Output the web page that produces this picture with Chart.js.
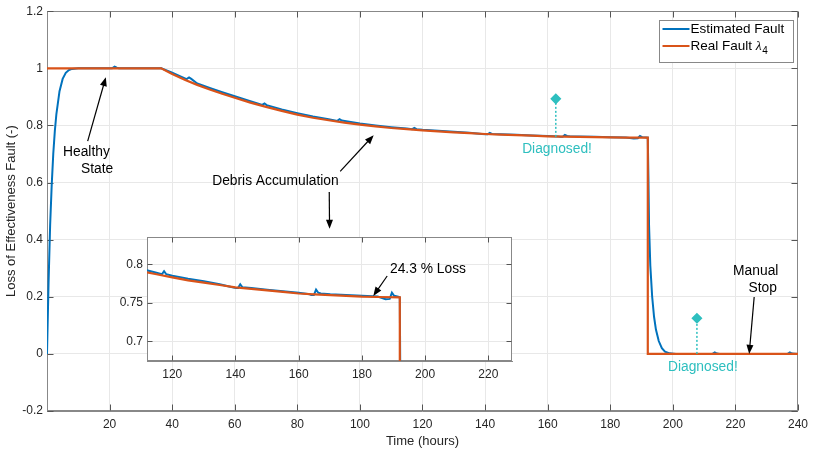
<!DOCTYPE html>
<html>
<head>
<meta charset="utf-8">
<script src="https://cdn.jsdelivr.net/npm/chart.js@4.4.1/dist/chart.umd.min.js"></script>
<style>
  html, body { margin: 0; padding: 0; background: #fff; }
  #wrap { position: relative; width: 814px; height: 453px; }
  #mainChart { position: absolute; left: 0; top: 0; }
  #insetChart { position: absolute; left: 100px; top: 226px; }
</style>
</head>
<body>
<div id="wrap">
  <canvas id="mainChart" width="814" height="453"></canvas>
  <canvas id="insetChart" width="416" height="160"></canvas>
</div>
<script>
// --- Data ---
const realTime = [0, 36.5, 40, 44, 48, 52, 56, 60, 65, 70, 75, 80, 85, 90, 95, 100, 105, 110, 115, 120,
  125, 130, 135, 140, 145, 150, 155, 160, 165, 170, 175, 180, 185, 192, 192, 240];
const realValue = [1, 1, 0.980, 0.960, 0.942, 0.926, 0.911, 0.897, 0.880, 0.865, 0.851, 0.838, 0.827, 0.818, 0.810, 0.803, 0.797, 0.791, 0.787, 0.783,
  0.779, 0.776, 0.773, 0.770, 0.768, 0.766, 0.764, 0.762, 0.761, 0.760, 0.759, 0.758, 0.7575, 0.757, 0, 0];

const estTime = [0, 0.5, 1, 1.5, 2, 2.5, 3, 4, 5, 6, 7, 8, 10,
  20.8, 21.6, 22.3, 23, 36.5, 40, 44.6, 45.4, 46.1, 48, 52, 56, 60, 65,
  68.8, 69.5, 70.2, 75, 80, 85, 90, 92.8, 93.5, 94.2, 100, 105, 110, 115,
  116.7, 117.4, 118.1, 120, 125, 130, 135, 139, 140.2, 140.8, 141.5, 142.2, 145, 150, 155, 160,
  163.5, 164, 164.8, 165.5, 166.2, 167, 170, 175, 180, 185, 187.5, 188.8, 189.5, 190.2, 191.5, 192,
  192.2, 192.4, 192.8, 193.4, 194, 194.6, 195.5, 196.5, 197.5, 199, 201,
  212.7, 213.4, 214.1, 215, 236.7, 237.4, 238.1, 240];
const estValue = [0, 0.25, 0.45, 0.59, 0.70, 0.78, 0.84, 0.92, 0.963, 0.984, 0.994, 0.998, 1.0,
  1.0, 1.006, 1.002, 1.0, 1.0, 0.985, 0.962, 0.968, 0.963, 0.947, 0.931, 0.916, 0.902, 0.885,
  0.872, 0.877, 0.871, 0.856, 0.843, 0.831, 0.822, 0.816, 0.822, 0.817, 0.807, 0.800, 0.794, 0.789,
  0.787, 0.791, 0.787, 0.785, 0.781, 0.778, 0.774, 0.770, 0.769, 0.769, 0.774, 0.770, 0.769, 0.767, 0.765, 0.763,
  0.761, 0.760, 0.760, 0.767, 0.763, 0.762, 0.761, 0.760, 0.759, 0.758, 0.7545, 0.755, 0.763, 0.759, 0.758, 0.757,
  0.62, 0.45, 0.31, 0.20, 0.13, 0.085, 0.045, 0.02, 0.008, 0.002, 0,
  0, 0.005, 0.001, 0, 0, 0.005, 0.001, 0];

const diagTime = [162.6, 207.7];
const diagTop = [0.893, 0.125];
const diagBase = [0.76, 0];

const xTicks = [20, 40, 60, 80, 100, 120, 140, 160, 180, 200, 220, 240];
const yTicks = [-0.2, 0, 0.2, 0.4, 0.6, 0.8, 1, 1.2];
const insetXTicks = [120, 140, 160, 180, 200, 220];
const insetYTicks = [0.7, 0.75, 0.8];

// --- Styles ---
const BLUE = '#0072BD';
const ORANGE = '#D95319';
const CYAN = '#2EBFBF';
const FONT = '"Liberation Sans", Arial, Helvetica, sans-serif';
Chart.defaults.font.family = FONT;
Chart.defaults.color = '#262626';

function toPoints(xs, ys) {
  return xs.map((x, i) => ({ x: x, y: ys[i] }));
}

function faultSets() {
  return [
    { label: 'Estimated Fault', data: toPoints(estTime, estValue), borderColor: BLUE,
      borderWidth: 2, pointRadius: 0, order: 2 },
    { label: 'Real Fault', data: toPoints(realTime, realValue), borderColor: ORANGE,
      borderWidth: 2.2, pointRadius: 0, order: 1 }
  ];
}

// stems for "Diagnosed!" markers
function stemSets() {
  return diagTime.map((t, i) => ({
    label: 'Diagnosed',
    data: [{ x: t, y: diagBase[i] }, { x: t, y: diagTop[i] }],
    borderColor: CYAN, borderWidth: 1.5, borderDash: [2, 2],
    pointRadius: [0, 4.5], pointStyle: 'rectRot',
    pointBackgroundColor: CYAN, pointBorderColor: CYAN, order: 0
  }));
}

function drawArrow(ctx, x1, y1, x2, y2) {
  const a = Math.atan2(y2 - y1, x2 - x1);
  const L = 9, W = 3.5;
  const c = Math.cos(a), s = Math.sin(a);
  ctx.beginPath();
  ctx.moveTo(x1, y1);
  ctx.lineTo(x2 - L * c * 0.7, y2 - L * s * 0.7);
  ctx.stroke();
  ctx.beginPath();
  ctx.moveTo(x2, y2);
  ctx.lineTo(x2 - L * c + W * s, y2 - L * s - W * c);
  ctx.lineTo(x2 - L * c - W * s, y2 - L * s + W * c);
  ctx.closePath();
  ctx.fill();
}

// box around the axes + inward tick marks (MATLAB look)
const framePlugin = {
  id: 'frame',
  beforeDatasetsDraw(chart, args, opts) {
    const { ctx, chartArea: a, scales: { x, y } } = chart;
    const len = opts.len || 6;
    ctx.save();
    ctx.strokeStyle = '#888';
    ctx.lineWidth = 1;
    const L = Math.round(a.left) + 0.5, R = Math.round(a.right) - 0.5;
    const T = Math.round(a.top) + 0.5, B = Math.round(a.bottom) - 0.5;
    ctx.strokeRect(L, T, R - L, B - T);
    ctx.strokeStyle = '#555';
    ctx.beginPath();
    x.ticks.forEach(tk => {
      const px = Math.round(x.getPixelForValue(tk.value)) + 0.5;
      ctx.moveTo(px, B); ctx.lineTo(px, B - len);
      ctx.moveTo(px, T); ctx.lineTo(px, T + len);
    });
    y.ticks.forEach(tk => {
      const py = Math.round(y.getPixelForValue(tk.value)) + 0.5;
      ctx.moveTo(L, py); ctx.lineTo(L + len, py);
      ctx.moveTo(R, py); ctx.lineTo(R - len, py);
    });
    ctx.stroke();
    ctx.restore();
  }
};

// text + arrows placed in data units
const mainTexts = [
  { text: 'Healthy', x: 12.6, y: 0.706, color: '#000' },
  { text: 'State', x: 16.0, y: 0.647, color: '#000' },
  { text: 'Debris Accumulation', x: 73.0, y: 0.604, color: '#000' },
  { text: 'Diagnosed!', x: 163.0, y: 0.716, color: CYAN },
  { text: 'Diagnosed!', x: 209.6, y: -0.047, color: CYAN },
  { text: 'Manual', x: 226.5, y: 0.288, color: '#000' },
  { text: 'Stop', x: 228.7, y: 0.230, color: '#000' }
];
const mainArrows = [
  [13.0, 0.745, 18.8, 0.969],
  [93.7, 0.639, 104.4, 0.766],
  [90.2, 0.567, 90.3, 0.438],
  [226.0, 0.199, 224.4, 0.0]
];
const insetTexts = [
  { text: '24.3 % Loss', x: 188.9, y: 0.793, color: '#000', align: 'left' }
];
const insetArrows = [
  [188.0, 0.7847, 183.6, 0.7588]
];

function notesPlugin(texts, arrows) {
  return {
    id: 'notes',
    afterDatasetsDraw(chart) {
      const { ctx, scales: { x, y } } = chart;
      ctx.save();
      ctx.font = '13.8px ' + FONT;
      ctx.textBaseline = 'middle';
      texts.forEach(n => {
        ctx.fillStyle = n.color;
        ctx.textAlign = n.align || 'center';
        ctx.fillText(n.text, x.getPixelForValue(n.x), y.getPixelForValue(n.y));
      });
      ctx.strokeStyle = '#000';
      ctx.fillStyle = '#000';
      ctx.lineWidth = 1.2;
      arrows.forEach(r => drawArrow(ctx, x.getPixelForValue(r[0]), y.getPixelForValue(r[1]),
        x.getPixelForValue(r[2]), y.getPixelForValue(r[3])));
      ctx.restore();
    }
  };
}

const legendPlugin = {
  id: 'boxLegend',
  afterDraw(chart) {
    const { ctx, chartArea: a } = chart;
    const w = 134, h = 42;
    const bx = Math.round(a.right - 5 - w) + 0.5, by = Math.round(a.top + 9) + 0.5;
    ctx.save();
    ctx.fillStyle = '#fff';
    ctx.fillRect(bx, by, w, h);
    ctx.strokeStyle = '#888';
    ctx.lineWidth = 1;
    ctx.strokeRect(bx, by, w, h);
    const rows = [{ c: BLUE, y: by + 8.5 }, { c: ORANGE, y: by + 25.5 }];
    rows.forEach(r => {
      ctx.strokeStyle = r.c;
      ctx.lineWidth = 2;
      ctx.beginPath();
      ctx.moveTo(bx + 3, r.y);
      ctx.lineTo(bx + 30, r.y);
      ctx.stroke();
    });
    ctx.fillStyle = '#000';
    ctx.textBaseline = 'middle';
    ctx.textAlign = 'left';
    ctx.font = '13.5px ' + FONT;
    const tx = bx + 31;
    ctx.fillText('Estimated Fault', tx, rows[0].y);
    const lab = 'Real Fault ';
    ctx.fillText(lab, tx, rows[1].y);
    const lx = tx + ctx.measureText(lab).width;
    ctx.font = 'italic 13.5px "Liberation Serif", serif';
    ctx.fillText('\u03BB', lx, rows[1].y);
    const sx = lx + ctx.measureText('\u03BB').width + 0.5;
    ctx.font = '10px ' + FONT;
    ctx.fillText('4', sx, rows[1].y + 5);
    ctx.restore();
  }
};

const insetBg = {
  id: 'insetBg',
  beforeDraw(chart) {
    const { ctx, chartArea: a } = chart;
    ctx.save();
    ctx.fillStyle = '#fff';
    ctx.fillRect(a.left, a.top, a.right - a.left, a.bottom - a.top);
    ctx.restore();
  }
};

const gridColor = '#e8e8e8';

// --- Main chart ---
new Chart(document.getElementById('mainChart'), {
  type: 'line',
  data: { datasets: faultSets().concat(stemSets()) },
  options: {
    responsive: false,
    animation: false,
    events: [],
    layout: { padding: { top: 8, right: 16, left: 0, bottom: 0 } },
    plugins: { legend: { display: false }, tooltip: { enabled: false }, frame: { len: 6 } },
    scales: {
      x: {
        type: 'linear', min: 0, max: 240,
        afterBuildTicks: s => { s.ticks = xTicks.map(v => ({ value: v })); },
        afterFit: s => { s.height = 42; },
        grid: { color: gridColor, drawTicks: false },
        border: { color: '#888' },
        ticks: { padding: 6, maxRotation: 0, autoSkip: false, font: { size: 12 },
          callback: v => String(v) },
        title: { display: true, text: 'Time (hours)', font: { size: 13 }, padding: { top: 0, bottom: 4 } }
      },
      y: {
        type: 'linear', min: -0.2, max: 1.2,
        afterBuildTicks: s => { s.ticks = yTicks.map(v => ({ value: v })); },
        afterFit: s => { s.width = 47; },
        grid: { color: gridColor, drawTicks: false },
        border: { color: '#888' },
        ticks: { padding: 4, font: { size: 12 }, autoSkip: false,
          callback: v => String(Math.round(v * 10) / 10) },
        title: { display: true, text: 'Loss of Effectiveness Fault (-)', font: { size: 13 },
          padding: { top: 4, bottom: 0 } }
      }
    }
  },
  plugins: [framePlugin, notesPlugin(mainTexts, mainArrows), legendPlugin]
});

// --- Inset (zoom on the debris phase) ---
new Chart(document.getElementById('insetChart'), {
  type: 'line',
  data: { datasets: faultSets() },
  options: {
    responsive: false,
    animation: false,
    events: [],
    layout: { padding: { top: 5, right: 4, left: 0, bottom: 0 } },
    plugins: { legend: { display: false }, tooltip: { enabled: false }, frame: { len: 5 } },
    scales: {
      x: {
        type: 'linear', min: 112, max: 227.5,
        afterBuildTicks: s => { s.ticks = insetXTicks.map(v => ({ value: v })); },
        afterFit: s => { s.height = 25; },
        grid: { color: gridColor, drawTicks: false },
        border: { color: '#888' },
        ticks: { padding: 6, maxRotation: 0, autoSkip: false, font: { size: 12 },
          callback: v => String(v) }
      },
      y: {
        type: 'linear', min: 0.6745, max: 0.835,
        afterBuildTicks: s => { s.ticks = insetYTicks.map(v => ({ value: v })); },
        afterFit: s => { s.width = 47; },
        grid: { color: gridColor, drawTicks: false },
        border: { color: '#888' },
        ticks: { padding: 4, font: { size: 12 }, autoSkip: false,
          callback: v => String(Math.round(v * 100) / 100) }
      }
    }
  },
  plugins: [insetBg, framePlugin, notesPlugin(insetTexts, insetArrows)]
});
</script>
</body>
</html>
